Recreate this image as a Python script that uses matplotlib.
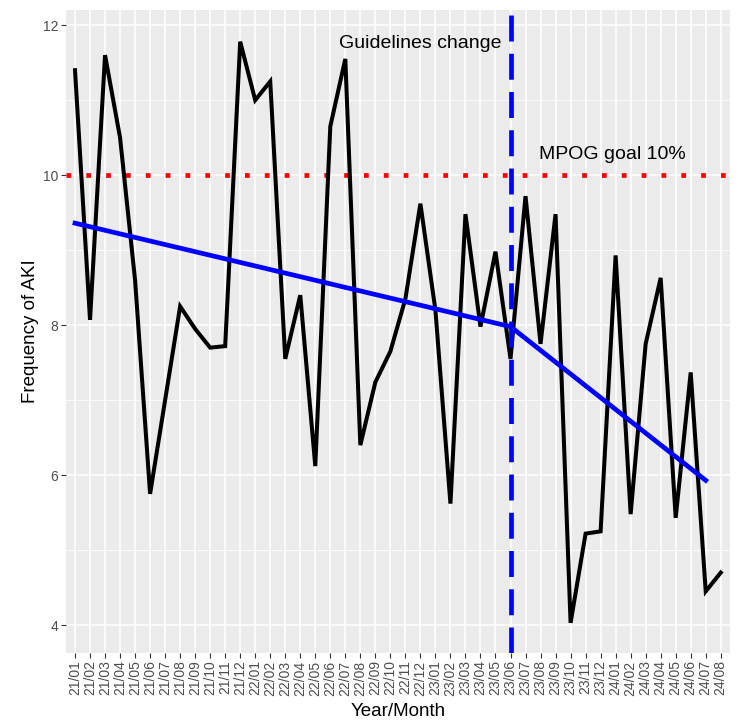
import numpy as np
import matplotlib
matplotlib.use("Agg")
import matplotlib.pyplot as plt
from matplotlib.ticker import MultipleLocator

plt.rcParams['font.family'] = ['Liberation Sans', 'DejaVu Sans']

# monthly AKI frequency, 21/01 .. 24/08
months = [f"{y:02d}/{m:02d}" for y in (21, 22, 23, 24) for m in range(1, 13)][:44]
aki = [11.4, 8.07, 11.6, 10.5, 8.6, 5.75, 7.0, 8.25, 7.95, 7.7,
       7.72, 11.78, 11.0, 11.25, 7.55, 8.4, 6.12, 10.65, 11.55, 6.4,
       7.24, 7.65, 8.35, 9.62, 8.2, 5.62, 9.48, 7.98, 8.98, 7.55,
       9.72, 7.75, 9.48, 4.03, 5.22, 5.25, 8.93, 5.48, 7.75, 8.63,
       5.43, 7.37, 4.45, 4.7]

# trend segments (start/end month and fitted values)
trend1_x = ["21/01", "23/06"]
trend1_y = [9.36, 7.98]
trend2_x = ["23/06", "24/07"]
trend2_y = [7.98, 5.93]

goal = 10
change_month = "23/06"

fig = plt.figure(figsize=(7.5, 7.27), dpi=100)
ax = fig.add_axes([0.088, 0.102, 0.885, 0.884])
ax.set_facecolor("#EBEBEB")

x = np.arange(len(months))
idx = {m: i for i, m in enumerate(months)}

ax.plot(x, aki, color="black", lw=2.9, solid_joinstyle="miter", zorder=3)
ax.plot([idx[m] for m in trend1_x], trend1_y, color="blue", lw=3.4, zorder=4)
ax.plot([idx[m] for m in trend2_x], trend2_y, color="blue", lw=3.4, zorder=4)
ax.axhline(goal, color="red", lw=3.4, linestyle=(0, (1, 3.2)), zorder=2)
ax.axvline(idx[change_month], color="blue", lw=3.4, linestyle=(0, (5.5, 2.6)), zorder=5)

ax.text(idx[change_month] - 0.6, 11.76, "Guidelines change", ha="right", va="center",
        fontsize=14, color="black")
ax.text(35.8, 10.27, "MPOG goal 10%", ha="center", va="center", fontsize=14, color="black")

ax.set_xlim(-0.6, len(months) - 0.4)
ax.set_ylim(3.63, 12.2)
ax.set_xticks(x)
ax.set_xticklabels(months, rotation=90, fontsize=10, color="#4D4D4D")
ax.yaxis.set_major_locator(MultipleLocator(2))
ax.yaxis.set_minor_locator(MultipleLocator(1))
ax.tick_params(axis="y", labelsize=10, labelcolor="#4D4D4D")
ax.tick_params(which="major", length=3.5, width=0.8, color="#333333", pad=2)
ax.tick_params(which="minor", length=0)

ax.grid(which="major", color="white", lw=1.1)
ax.grid(which="minor", axis="y", color="white", lw=0.55)
ax.set_axisbelow(True)
for s in ax.spines.values():
    s.set_visible(False)

ax.set_xlabel("Year/Month", fontsize=13.5, labelpad=5)
ax.set_ylabel("Frequency of AKI", fontsize=13.5, labelpad=3)

fig.savefig("out.png", dpi=100)
